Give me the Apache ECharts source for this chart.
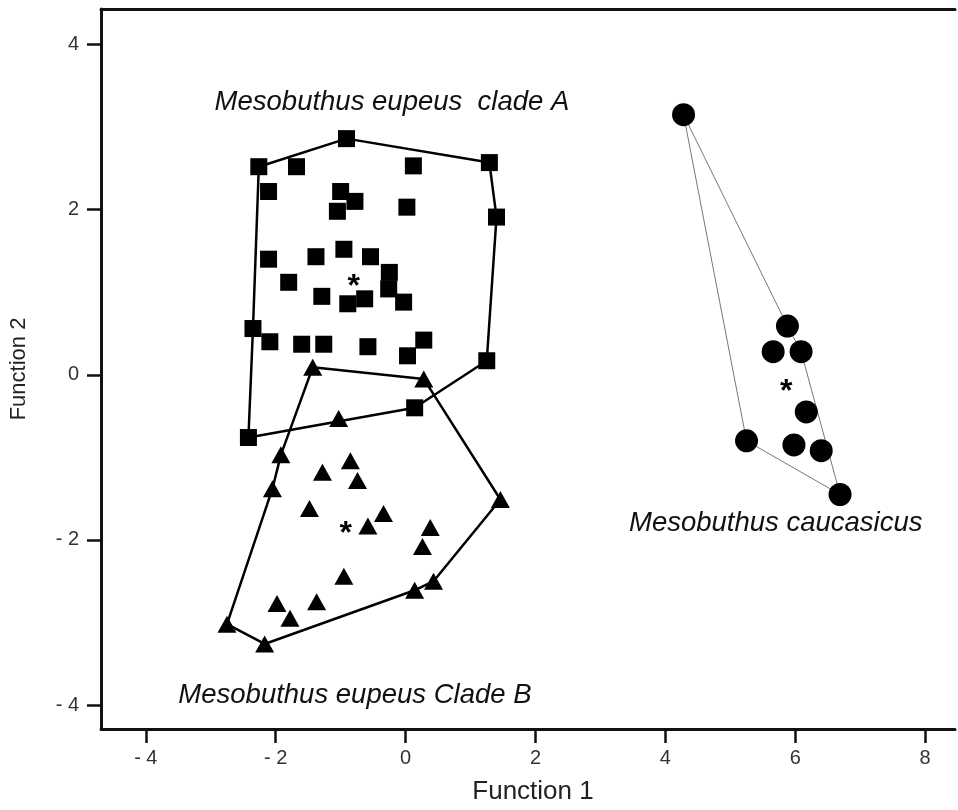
<!DOCTYPE html>
<html>
<head>
<meta charset="utf-8">
<script src="https://cdn.jsdelivr.net/npm/echarts@6/dist/echarts.min.js"></script>
<style>
  html, body { margin: 0; padding: 0; background: #fff; }
  #main { width: 958px; height: 810px; }
</style>
</head>
<body>
<div id="main"></div>
<script>
// Mesobuthus eupeus clade A (squares)
var cladeA = [
    [-2.26, 2.52], [-1.68, 2.52], [-0.91, 2.86], [0.12, 2.53], [1.29, 2.57], [1.40, 1.91],
    [-2.11, 2.22], [-1.00, 2.22], [-0.78, 2.10], [-1.05, 1.98], [0.02, 2.03],
    [-2.11, 1.40], [-1.38, 1.43], [-0.95, 1.52], [-0.54, 1.43], [-0.25, 1.24], [-0.26, 1.04],
    [-1.80, 1.12], [-1.29, 0.95], [-0.63, 0.92], [-0.89, 0.86], [-0.03, 0.88],
    [-2.35, 0.56], [-2.09, 0.40], [-1.60, 0.37], [-1.26, 0.37], [-0.58, 0.34], [0.03, 0.23],
    [0.28, 0.42], [1.25, 0.17], [0.14, -0.40], [-2.42, -0.76]
];
var hullA = [0, 2, 4, 5, 29, 30, 31, 22, 0];

// Mesobuthus eupeus clade B (triangles)
var cladeB = [
    [-1.43, 0.09], [0.28, -0.05], [1.46, -1.51], [-1.03, -0.53], [-1.92, -0.97],
    [-1.28, -1.18], [-0.85, -1.04], [-0.74, -1.28], [-2.05, -1.38], [-1.48, -1.62],
    [-0.34, -1.68], [-0.58, -1.83], [0.38, -1.85], [0.26, -2.08], [-0.95, -2.44],
    [-1.98, -2.77], [-1.37, -2.75], [-1.78, -2.95], [-2.75, -3.02], [-2.17, -3.26],
    [0.14, -2.61], [0.43, -2.50]
];
var hullB = [0, 1, 2, 21, 20, 19, 18, 8, 4, 0];

// Mesobuthus caucasicus (circles)
var caucasicus = [
    [4.28, 3.15], [5.88, 0.59], [5.66, 0.28], [6.09, 0.28], [6.17, -0.45],
    [5.25, -0.80], [5.98, -0.85], [6.40, -0.92], [6.69, -1.45]
];
var hullC = [0, 1, 3, 8, 5, 0];

// group centroids
var centroids = [[-0.80, 1.14], [-0.92, -1.84], [5.86, -0.12]];

// group names and where they sit
var groupNames = ['Mesobuthus eupeus  clade A', 'Mesobuthus eupeus Clade B', 'Mesobuthus caucasicus'];
var namePos = [[-0.21, 3.30], [-0.78, -3.88], [5.70, -1.80]];

var xTicks = [-4, -2, 0, 2, 4, 6, 8];
var yTicks = [-4, -2, 0, 2, 4];

function hull(points, idx) {
    return idx.map(function (i) { return points[i]; });
}

function tickFmt(v) {
    return v < 0 ? '- ' + Math.abs(v) : String(v);
}

var myChart = echarts.init(document.getElementById('main'));

var lineBase = {
    type: 'line',
    symbol: 'none',
    silent: true,
    z: 1
};

var option = {
    backgroundColor: '#fff',
    animation: false,
    textStyle: { fontFamily: '"Liberation Sans", Arial, sans-serif' },
    grid: { left: 100, top: 9, width: 855, height: 722 },
    xAxis: [{
        type: 'value',
        min: -4.69,
        max: 8.46,
        splitLine: { show: false },
        axisLine: { onZero: false, lineStyle: { color: '#111', width: 3 } },
        axisTick: { show: true, length: 14, lineStyle: { color: '#111', width: 2.5 }, customValues: xTicks },
        axisLabel: { customValues: xTicks, formatter: tickFmt, color: '#333', fontSize: 20, margin: 19 },
        name: 'Function 1',
        nameLocation: 'middle',
        nameGap: 50,
        nameTextStyle: { color: '#222', fontSize: 26, padding: [0, 0, 0, 10] }
    }, {
        type: 'value',
        position: 'top',
        min: -4.69,
        max: 8.46,
        splitLine: { show: false },
        axisLine: { show: true, onZero: false, lineStyle: { color: '#111', width: 3 } },
        axisTick: { show: false },
        axisLabel: { show: false }
    }],
    yAxis: {
        type: 'value',
        min: -4.29,
        max: 4.43,
        splitLine: { show: false },
        axisLine: { show: true, onZero: false, lineStyle: { color: '#111', width: 3 } },
        axisTick: { show: true, length: 14, lineStyle: { color: '#111', width: 2.5 }, customValues: yTicks },
        axisLabel: { customValues: yTicks, formatter: tickFmt, color: '#333', fontSize: 20, margin: 22 },
        name: 'Function 2',
        nameLocation: 'middle',
        nameGap: 71,
        nameTextStyle: { color: '#222', fontSize: 22 }
    },
    series: [
        Object.assign({}, lineBase, {
            name: 'hullA',
            data: hull(cladeA, hullA),
            lineStyle: { color: '#000', width: 2.5 }
        }),
        Object.assign({}, lineBase, {
            name: 'hullB',
            data: hull(cladeB, hullB),
            lineStyle: { color: '#000', width: 2.5 }
        }),
        Object.assign({}, lineBase, {
            name: 'hullC',
            data: hull(caucasicus, hullC),
            lineStyle: { color: '#777', width: 1 }
        }),
        {
            name: 'clade A',
            type: 'scatter',
            symbol: 'rect',
            symbolSize: 17,
            itemStyle: { color: '#000', opacity: 1 },
            data: cladeA,
            z: 3
        },
        {
            name: 'clade B',
            type: 'scatter',
            symbol: 'triangle',
            symbolSize: [19, 17],
            itemStyle: { color: '#000', opacity: 1 },
            data: cladeB,
            z: 3
        },
        {
            name: 'caucasicus',
            type: 'scatter',
            symbol: 'circle',
            symbolSize: 23,
            itemStyle: { color: '#000', opacity: 1 },
            data: caucasicus,
            z: 3
        },
        {
            name: 'centroids',
            type: 'scatter',
            symbolSize: 0,
            data: centroids,
            itemStyle: { opacity: 1 },
            label: {
                show: true,
                position: 'inside',
                formatter: '*',
                color: '#000',
                fontSize: 32,
                fontWeight: 'bold',
                offset: [0, 7]
            },
            z: 4
        },
        {
            name: 'names',
            type: 'scatter',
            symbolSize: 0,
            itemStyle: { opacity: 1 },
            data: namePos.map(function (p, i) { return [p[0], p[1], groupNames[i]]; }),
            label: {
                show: true,
                position: 'inside',
                formatter: function (p) { return p.data[2]; },
                color: '#111',
                fontSize: 27.5,
                fontStyle: 'italic'
            },
            z: 4
        }
    ]
};

myChart.setOption(option);
</script>
</body>
</html>
